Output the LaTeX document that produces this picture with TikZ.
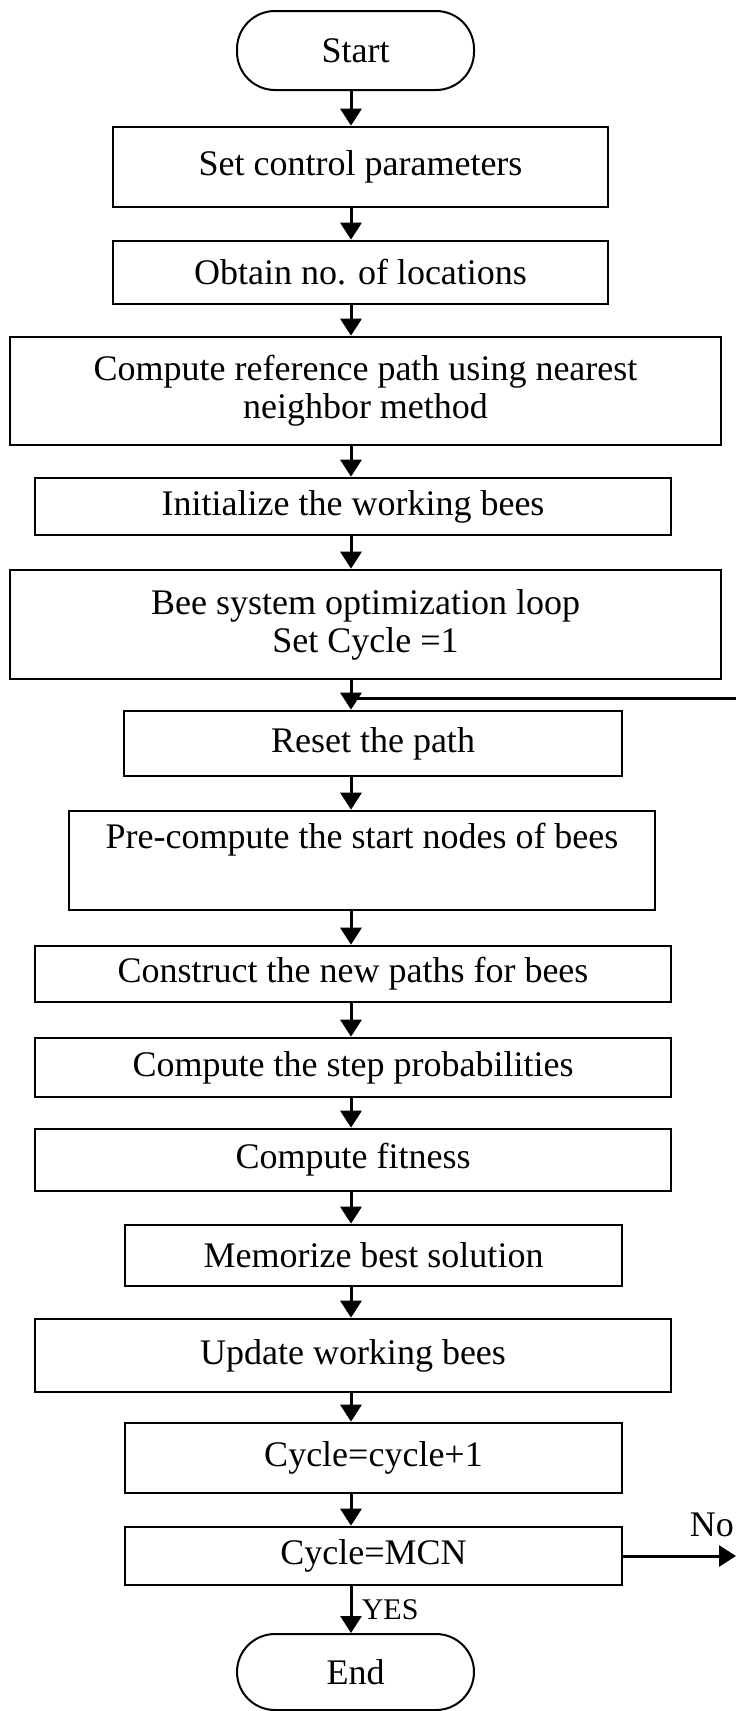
\documentclass[tikz,border=0pt]{standalone}
\usepackage{fontspec}
\setmainfont{Liberation Serif}
\usetikzlibrary{arrows.meta,positioning}

\tikzset{
  box/.style={draw, rectangle, line width=2.6pt, inner sep=0pt, align=center,
    font=\fontsize{36}{38}\selectfont},
  term/.style={box, rounded corners=38pt, line width=2pt},
  flow/.style={line width=3pt, -{Triangle[length=17pt,width=21pt]}},
  link/.style={line width=3pt},
}

\begin{document}
\begin{tikzpicture}[x=1pt,y=-1pt]
\useasboundingbox (0,0) rectangle (736,1711);
\coordinate (spine) at (351,0);

% start and end
\node[term, minimum width=237pt, minimum height=79pt] (start) at (355.5,50.5) {Start};
\node[term, minimum width=237pt, minimum height=76pt] (end) at (355.5,1672) {End};

% steps
\node[box, minimum width=495pt, minimum height=80pt] (setpar) at (360.5,167) {Set control parameters};
\node[box, minimum width=495pt, minimum height=63pt] (obtain) at (360.5,272.5) {Obtain no. of locations};
\node[box, minimum width=711pt, minimum height=108pt] (refpath) at (365.5,391)
    {Compute reference path using nearest\\neighbor method};
\node[box, minimum width=636pt, minimum height=57pt] (init) at (353,506.5) {Initialize the working bees};
\node[box, minimum width=711pt, minimum height=109pt] (beeloop) at (365.5,624.5)
    {Bee system optimization loop\\Set Cycle =1};
\node[box, minimum width=498pt, minimum height=65pt] (reset) at (373,743.5) {Reset the path};
\node[box, minimum width=586pt, minimum height=99pt] (precomp) at (362,860.5)
    {Pre-compute the start nodes of bees\\\strut};
\node[box, minimum width=636pt, minimum height=56pt] (construct) at (353,974) {Construct the new paths for bees};
\node[box, minimum width=636pt, minimum height=59pt] (stepprob) at (353,1067.5) {Compute the step probabilities};
\node[box, minimum width=636pt, minimum height=62pt] (fitness) at (353,1160) {Compute fitness};
\node[box, minimum width=497pt, minimum height=61pt] (memo) at (373.5,1255.5) {Memorize best solution};
\node[box, minimum width=636pt, minimum height=73pt] (update) at (353,1355.5) {Update working bees};
\node[box, minimum width=497pt, minimum height=70pt] (incr) at (373.5,1458) {Cycle=cycle+1};
\node[box, minimum width=497pt, minimum height=58pt] (mcn) at (373.5,1556) {Cycle=MCN};

% arrows down the column
\draw[flow] (start.south -| spine) -- (setpar.north -| spine);
\draw[flow] (setpar.south -| spine) -- (obtain.north -| spine);
\draw[flow] (obtain.south -| spine) -- (refpath.north -| spine);
\draw[flow] (refpath.south -| spine) -- (init.north -| spine);
\draw[flow] (init.south -| spine) -- (beeloop.north -| spine);
\draw[flow] (beeloop.south -| spine) -- (reset.north -| spine);
\draw[flow] (reset.south -| spine) -- (precomp.north -| spine);
\draw[flow] (precomp.south -| spine) -- (construct.north -| spine);
\draw[flow] (construct.south -| spine) -- (stepprob.north -| spine);
\draw[flow] (stepprob.south -| spine) -- (fitness.north -| spine);
\draw[flow] (fitness.south -| spine) -- (memo.north -| spine);
\draw[flow] (memo.south -| spine) -- (update.north -| spine);
\draw[flow] (update.south -| spine) -- (incr.north -| spine);
\draw[flow] (incr.south -| spine) -- (mcn.north -| spine);
\draw[flow] (mcn.south -| spine) -- (end.north -| spine)
    node[midway, anchor=west, xshift=6pt, font=\fontsize{30}{32}\selectfont] (yes) {YES};

% loop back
\coordinate (loopin) at (736,698);
\draw[link] (loopin) -- (loopin -| spine);

% no branch
\coordinate (noout) at (736,1556);
\draw[flow] (mcn.east) -- (noout);
\node[font=\fontsize{36}{38}\selectfont, anchor=east, inner sep=2pt] (no) at (736,1525) {No};

\end{tikzpicture}
\end{document}
